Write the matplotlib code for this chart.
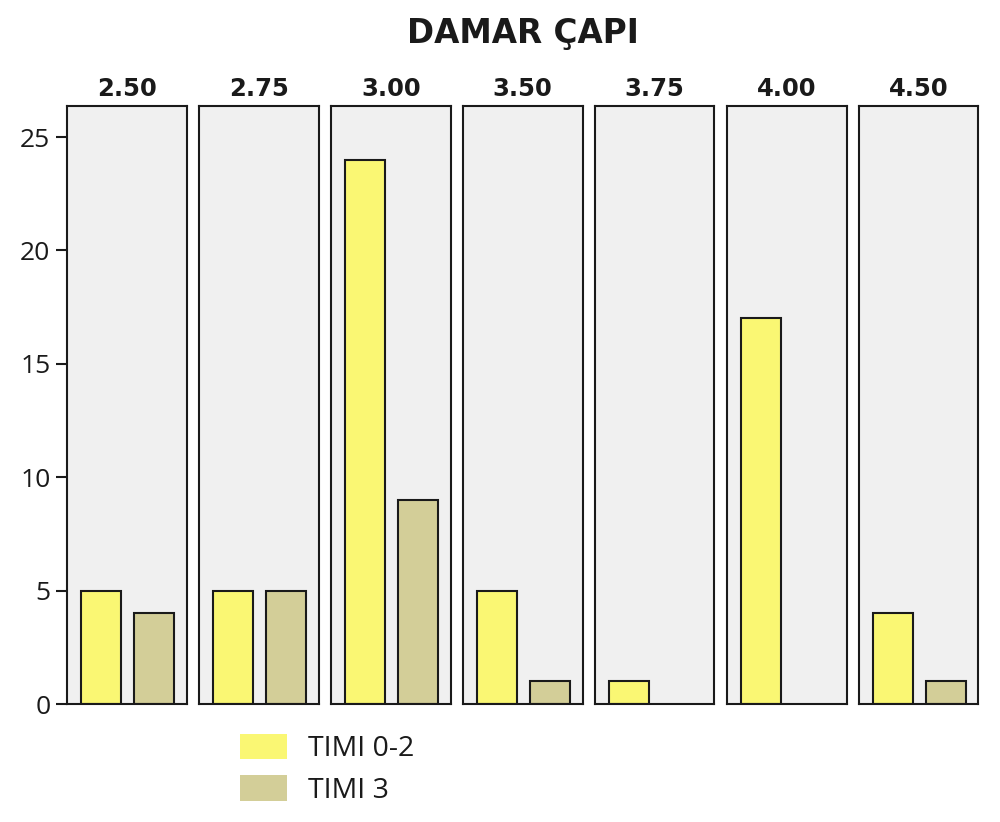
import matplotlib
matplotlib.use('Agg')
import matplotlib.pyplot as plt
from matplotlib.patches import Patch

# Values
diameters = ['2.50', '2.75', '3.00', '3.50', '3.75', '4.00', '4.50']
timi_02 = [5, 5, 24, 5, 1, 17, 4]
timi_3 = [4, 5, 9, 1, 0, 0, 1]
series_labels = ['TIMI 0-2', 'TIMI 3']

yellow = '#FAF773'
khaki = '#D3CE98'

plt.rcParams['font.family'] = ['Open Sans', 'DejaVu Sans']
bold_font = ['DejaVu Sans']

fig = plt.figure(figsize=(10, 8.22), dpi=100)

left, panel_w, gap = 0.067, 0.1195, 0.0125
bottom, top = 1 - 704 / 822, 1 - 106 / 822

for i, d in enumerate(diameters):
    ax = fig.add_axes([left + i * (panel_w + gap), bottom, panel_w, top - bottom])
    ax.set_facecolor('#F0F0F0')
    vals = [timi_02[i], timi_3[i]]
    for j, (v, c) in enumerate(zip(vals, [yellow, khaki])):
        if v > 0:
            ax.bar(j, v, width=0.75, color=c, edgecolor='#1a1a1a', linewidth=1.5)
    ax.set_xlim(-0.64, 1.62)
    ax.set_ylim(0, 26.37)
    ax.set_xticks([])
    ax.set_title(d, fontsize=17.5, fontweight='bold', family=bold_font,
                 color='#1a1a1a', pad=7)
    for s in ax.spines.values():
        s.set_linewidth(1.5)
        s.set_color('#1a1a1a')
    if i == 0:
        ax.set_yticks([0, 5, 10, 15, 20, 25])
        ax.tick_params(axis='y', labelsize=19, length=8, width=1.5,
                       colors='#1a1a1a', pad=4)
    else:
        ax.set_yticks([])

fig.text(0.523, 1 - 34 / 822, 'DAMAR ÇAPI', ha='center', va='center',
         fontsize=23.5, fontweight='bold', family=bold_font, color='#1a1a1a')

handles = [Patch(facecolor=yellow, edgecolor='none'),
           Patch(facecolor=khaki, edgecolor='none')]
fig.legend(handles, series_labels, loc='upper left',
           bbox_to_anchor=(0.214, 1 - 708 / 822), frameon=False,
           fontsize=20.5, handlelength=1.65, handleheight=1.0,
           handletextpad=0.75, labelspacing=0.42, labelcolor='#1a1a1a')

fig.savefig('out.png', dpi=100)
